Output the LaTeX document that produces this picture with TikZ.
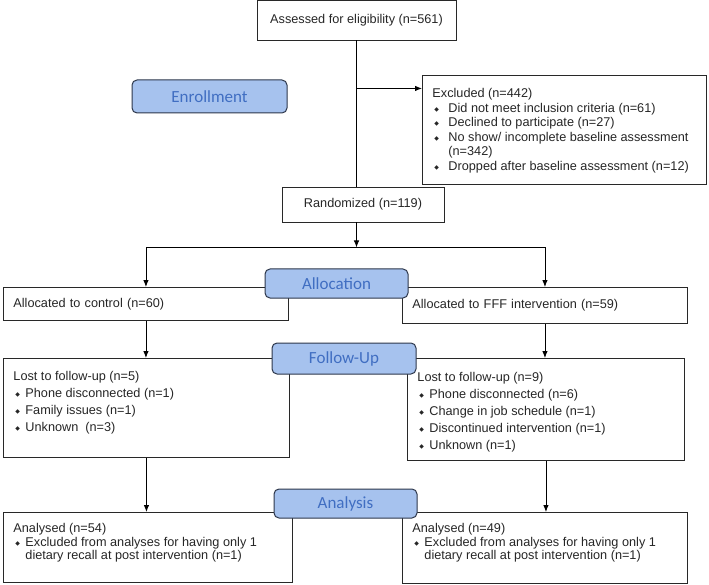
\documentclass[tikz,border=0pt]{standalone}
\usepackage{fontspec}
\setmainfont{Liberation Sans}
\newfontfamily\phasefont{Carlito}
\newfontfamily\symfont{DejaVu Sans}
\usetikzlibrary{arrows.meta,positioning}
\definecolor{phasefill}{RGB}{166,194,238}
\definecolor{phaseink}{RGB}{64,110,194}
\definecolor{phaseline}{RGB}{45,55,75}
\definecolor{boxline}{RGB}{40,40,40}
\newcommand{\dmd}[1][12pt]{\makebox[#1][l]{\hspace{2pt}\raisebox{1pt}{\symfont\fontsize{6}{6}\selectfont\symbol{"25C6}}}}
\tikzset{
  box/.style   = {draw=boxline, line width=0.9pt, anchor=north west, inner xsep=10pt, inner ysep=0pt, align=left, text=black!85, font=\fontsize{12.7}{15}\selectfont},
  phase/.style = {draw=phaseline, fill=phasefill, line width=1pt, rounded corners=5pt, inner sep=0pt, text=phaseink, font=\phasefont\fontsize{17}{20}\selectfont},
  line/.style  = {-{Latex[length=7pt,width=5.5pt]}, line width=0.9pt},
}
\begin{document}
\begin{tikzpicture}[x=1pt,y=-1pt]
    \useasboundingbox (0,0) rectangle (709,585);
    % boxes
    \node[box,anchor=center,minimum width=199pt,minimum height=40pt] (assess) at (356.5,20) {Assessed for eligibility (n=561)};
    \node[box] (excl) at (422,75) {\parbox[c][109pt][t]{264pt}{\fontsize{12.7}{14.5}\selectfont\vspace*{13pt}Excluded (n=442)\\
      \dmd[16pt]Did not meet inclusion criteria (n=61)\\
      \dmd[16pt]Declined to participate (n=27)\\
      \dmd[16pt]No show/ incomplete baseline assessment\\
      \hspace*{16pt}(n=342)\\
      \dmd[16pt]Dropped after baseline assessment (n=12)}};
    \node[box,anchor=center,minimum width=162pt,minimum height=35pt] (rand) at (363,204.5) {Randomized (n=119)};
    \node[box,text width=265pt,minimum height=33pt] (ctrl) at (3,287) {Allocated to control (n=60)};
    \node[box,text width=265pt,minimum height=36pt] (fff) at (402,287) {Allocated to FFF intervention (n=59)};
    \node[box] (lostL) at (3,358) {\parbox[c][99pt][t]{266pt}{\fontsize{12.7}{17}\selectfont\vspace*{13pt}Lost to follow-up (n=5)\\
      \dmd Phone disconnected (n=1)\\
      \dmd Family issues (n=1)\\
      \dmd Unknown~ (n=3)}};
    \node[box] (lostR) at (407,358) {\parbox[c][102pt][t]{257pt}{\fontsize{12.7}{17}\selectfont\vspace*{14pt}Lost to follow-up (n=9)\\
      \dmd Phone disconnected (n=6)\\
      \dmd Change in job schedule (n=1)\\
      \dmd Discontinued intervention (n=1)\\
      \dmd Unknown (n=1)}};
    \node[box] (analL) at (3,512) {\parbox[c][70pt][t]{269pt}{\fontsize{12.7}{13.5}\selectfont\vspace*{11pt}Analysed (n=54)\\
      \dmd Excluded from analyses for having only 1\\
      \hspace*{12pt}dietary recall at post intervention (n=1)}};
    \node[box] (analR) at (402,512) {\parbox[c][71pt][t]{265pt}{\fontsize{12.7}{13.5}\selectfont\vspace*{11pt}Analysed (n=49)\\
      \dmd Excluded from analyses for having only 1\\
      \hspace*{12pt}dietary recall at post intervention (n=1)}};

    % phase labels
    \node[phase,minimum width=155pt,minimum height=33pt] (enroll) at (209.5,96.5) {Enrollment};
    \node[phase,minimum width=143pt,minimum height=29pt] (alloc) at (336.5,283.5) {Allocation};
    \node[phase,minimum width=144pt,minimum height=31pt] (follow) at (344,358.5) {Follow-Up};
    \node[phase,minimum width=143pt,minimum height=29pt] (analysis) at (345.5,503.5) {Analysis};

    % connectors
    \coordinate (brk) at ([yshift=-48pt]assess.south);
    \coordinate (fork) at ([yshift=-207pt]assess.south);
    \draw[line width=0.9pt] (assess.south) -- (assess.south |- rand.north);
    \draw[line] (brk) -- (brk -| excl.west);
    \draw[line] (assess.south |- rand.south) -- (fork);
    \draw[line] (fork) -| (ctrl.north);
    \draw[line] (fork) -| (fff.north);
    \draw[line] (ctrl.south) -- (ctrl.south |- lostL.north);
    \draw[line] (fff.south) -- (fff.south |- lostR.north);
    \draw[line] (lostL.south) -- (lostL.south |- analL.north);
    \draw[line] (lostR.south) -- (lostR.south |- analR.north);
\end{tikzpicture}
\end{document}
